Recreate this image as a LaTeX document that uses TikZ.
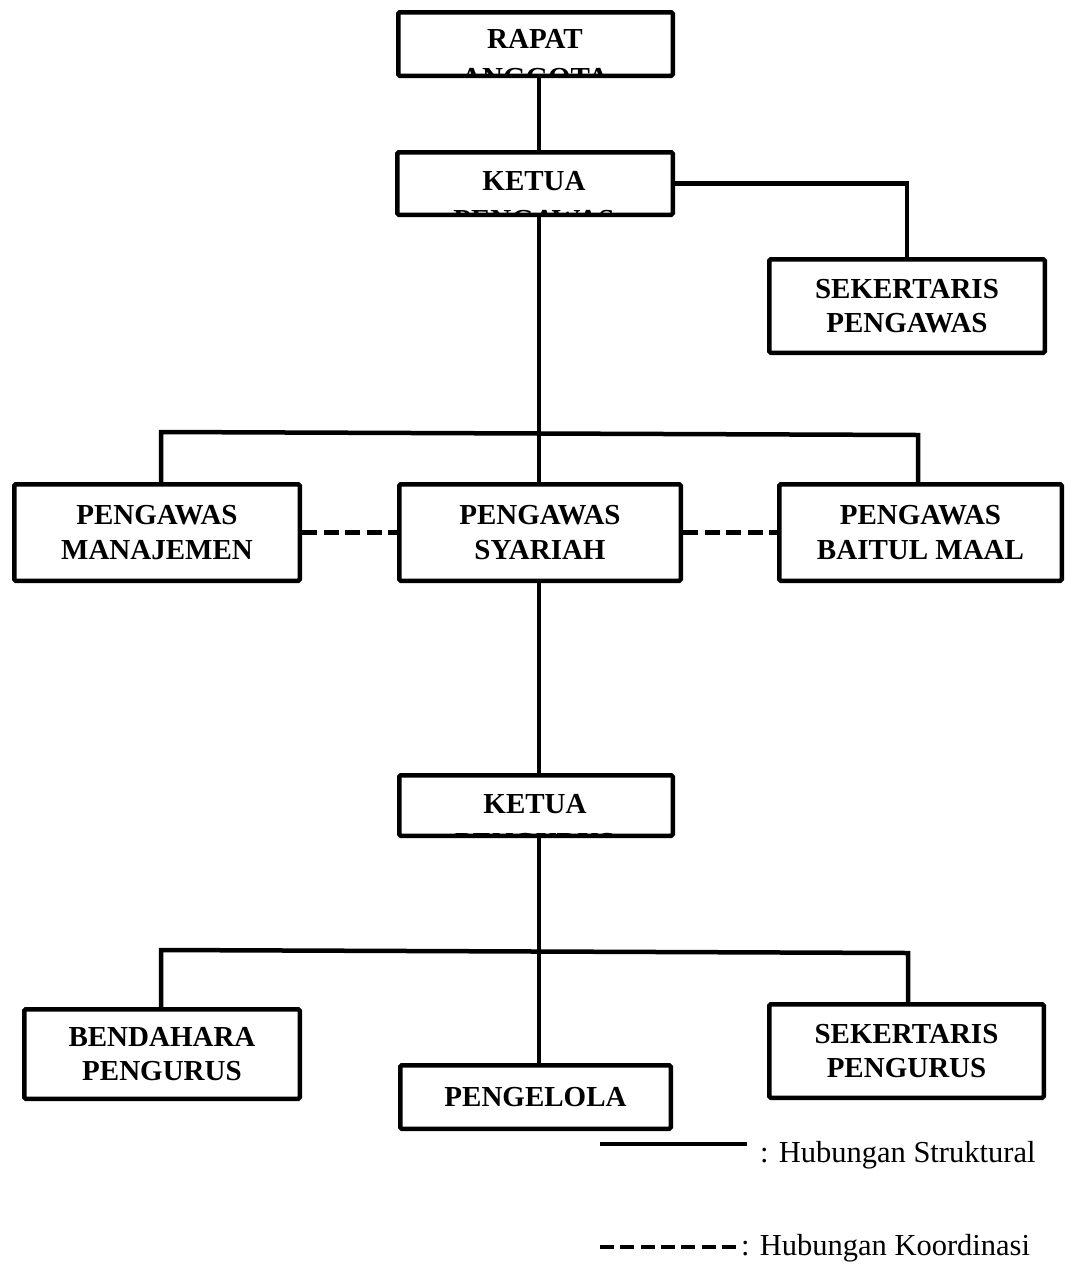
\documentclass[tikz,border=0pt]{standalone}
\usepackage{fontspec}
\setmainfont{Liberation Serif}
\begin{document}
\begin{tikzpicture}[x=1pt,y=-1pt,
  box/.style={draw, line width=4.5pt, rounded corners=1.5pt, inner sep=0pt, align=center,
    font=\fontsize{29}{34.5}\selectfont\bfseries},
  conn/.style={line width=4.5pt},
  coordline/.style={line width=4.5pt, dash pattern=on 15pt off 6.5pt},
  legdash/.style={line width=4.5pt, dash pattern=on 14pt off 6.3pt},
  lbl/.style={inner sep=0pt, anchor=base, font=\fontsize{29}{34.5}\selectfont\bfseries},
  leg/.style={inner sep=0pt, anchor=base west, font=\fontsize{30.5}{36}\selectfont}]
\useasboundingbox (0,0) rectangle (1065,1270);

% boxes
\node[box, minimum width=274.5pt, minimum height=63.5pt] (rapat) at (535.5,44) {};
\node[box, minimum width=275.5pt, minimum height=62.5pt] (ketuaP) at (535,183.5) {};
\node[box, minimum width=275.5pt, minimum height=93.5pt] (sekP) at (907,306) {SEKERTARIS\\PENGAWAS};
\node[box, minimum width=285.5pt, minimum height=96.5pt] (manajemen) at (157,532.5) {PENGAWAS\\MANAJEMEN};
\node[box, minimum width=281.5pt, minimum height=96.5pt] (syariah) at (540,532.5) {PENGAWAS\\SYARIAH};
\node[box, minimum width=282.5pt, minimum height=96.5pt] (baitul) at (920.5,532.5) {PENGAWAS\\BAITUL MAAL};
\node[box, minimum width=273.5pt, minimum height=60.5pt] (ketuaU) at (536,805.5) {};
\node[box, minimum width=275.5pt, minimum height=89.5pt] (bendahara) at (162,1054) {BENDAHARA\\PENGURUS};
\node[box, minimum width=270.5pt, minimum height=63.5pt] (pengelola) at (535.5,1097) {PENGELOLA};
\node[box, minimum width=274.5pt, minimum height=93.5pt] (sekU) at (906.5,1051) {SEKERTARIS\\PENGURUS};

% clipped two-line texts
\begin{scope}
  \clip ([shift={(2.25,2.25)}]rapat.north west) rectangle ([shift={(-2.25,-2.25)}]rapat.south east);
  \node[lbl] (rapatA) at (535,48) {RAPAT};
  \node[lbl] (rapatB) at (535,87) {ANGGOTA};
\end{scope}
\begin{scope}
  \clip ([shift={(2.25,2.25)}]ketuaP.north west) rectangle ([shift={(-2.25,-2.25)}]ketuaP.south east);
  \node[lbl] (ketuaPA) at (534,190) {KETUA};
  \node[lbl] (ketuaPB) at (534,229) {PENGAWAS};
\end{scope}
\begin{scope}
  \clip ([shift={(2.25,2.25)}]ketuaU.north west) rectangle ([shift={(-2.25,-2.25)}]ketuaU.south east);
  \node[lbl] (ketuaUA) at (535,813) {KETUA};
  \node[lbl] (ketuaUB) at (535,852) {PENGURUS};
\end{scope}

% connectors
\coordinate (sp) at (539,0);
\coordinate (tl) at (161,432);
\coordinate (tr) at (918,435);
\coordinate (bl) at (161,950);
\coordinate (br) at (908,953);

\draw[conn] (rapat.south -| sp) -- (ketuaP.north -| sp);
\draw[conn] (ketuaP.south -| sp) -- (syariah.north -| sp);
\draw[conn] (ketuaP.east) -| (sekP.north);
\draw[conn] (tl |- manajemen.north) -- (tl) -- (tr) -- (tr |- baitul.north);
\draw[coordline] (manajemen.east) -- (syariah.west);
\draw[coordline] (syariah.east) -- (baitul.west);
\draw[conn] (syariah.south -| sp) -- (ketuaU.north -| sp);
\draw[conn] (ketuaU.south -| sp) -- (pengelola.north -| sp);
\draw[conn] (bl |- bendahara.north) -- (bl) -- (br) -- (br |- sekU.north);

% legend
\coordinate (ls1) at (600,1144);
\coordinate (ls2) at (747,1144);
\coordinate (lk1) at (600,1247);
\coordinate (lk2) at (736,1247);
\draw[conn] (ls1) -- (ls2);
\node[leg] (legS) at (760,1162) {: Hubungan Struktural};
\draw[legdash] (lk1) -- (lk2);
\node[leg] (legK) at (741,1255) {: Hubungan Koordinasi};
\end{tikzpicture}
\end{document}
